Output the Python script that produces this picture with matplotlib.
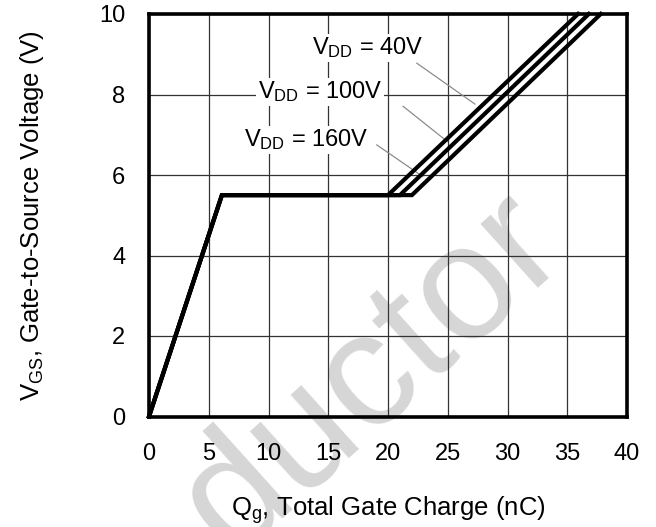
import numpy as np
import matplotlib
matplotlib.use('Agg')
import matplotlib.pyplot as plt

plt.rcParams['font.family'] = ['Liberation Sans', 'DejaVu Sans']
plt.rcParams['mathtext.fontset'] = 'custom'
plt.rcParams['mathtext.rm'] = 'Liberation Sans'

# gate charge curves, one per VDD
vdd_labels = ['40V', '100V', '160V']
qg_rise_end = 6.1          # nC, end of first ramp
vgs_plateau = 5.5          # V, miller plateau
qg_plateau_end = [20.0, 21.0, 22.0]
qg_at_10v = [35.9, 36.8, 37.8]
vgs_top = 10.0

x_ticks = [0, 5, 10, 15, 20, 25, 30, 35, 40]
y_ticks = [0, 2, 4, 6, 8, 10]

# label placement (data coords) and leader line start / voltage where it hits its curve
label_pos = [(13.6, 9.16), (9.1, 8.07), (7.95, 6.87)]
leader_start = [(22.4, 8.78), (21.25, 7.71), (19.05, 6.75)]
leader_v = [7.76, 6.83, 5.96]

fig = plt.figure(figsize=(6.56, 5.27), dpi=100)
ax = fig.add_axes([149/656, 1-416.5/527, (627-149)/656, (416.5-14)/527])
ax.set_facecolor('none')

# watermark behind everything
fig.text(0.567, 0.288, 'ductor', rotation=42, rotation_mode='anchor', fontsize=118,
         color='#d6d6d6', ha='center', va='center', zorder=-1)

for i in range(len(vdd_labels)):
    xs = [0, qg_rise_end, qg_plateau_end[i], qg_at_10v[i]]
    ys = [0, vgs_plateau, vgs_plateau, vgs_top]
    ax.plot(xs, ys, color='black', lw=3, solid_joinstyle='miter', zorder=3, clip_on=False)

    # point on this curve for the leader
    v = leader_v[i]
    xq = np.interp(v, [vgs_plateau, vgs_top], [qg_plateau_end[i], qg_at_10v[i]])
    ax.annotate('', xy=(xq - 0.7, v), xytext=leader_start[i],
                arrowprops=dict(arrowstyle='-', color='#8c8c8c', lw=0.9,
                                shrinkA=0, shrinkB=0), zorder=2)
    ax.text(label_pos[i][0], label_pos[i][1],
            r'$\mathregular{V_{DD}}$ = ' + vdd_labels[i],
            fontsize=17, ha='left', va='center', zorder=4,
            bbox=dict(facecolor='white', edgecolor='none', pad=1))

ax.set_xlim(0, 40)
ax.set_ylim(0, 10)
ax.set_xticks(x_ticks)
ax.set_yticks(y_ticks)
ax.tick_params(length=0, labelsize=17)
ax.tick_params(axis='x', pad=19)
ax.tick_params(axis='y', pad=17)
ax.grid(True, color='#333333', lw=0.9)
ax.set_axisbelow(True)
for s in ax.spines.values():
    s.set_linewidth(2.6)

ax.set_xlabel(r'$\mathregular{Q_g}$, Total Gate Charge (nC)', fontsize=18.5, labelpad=21)
ax.set_ylabel(r'$\mathregular{V_{GS}}$, Gate-to-Source Voltage (V)', fontsize=18.5, labelpad=38)

fig.savefig('out.png', dpi=100)
